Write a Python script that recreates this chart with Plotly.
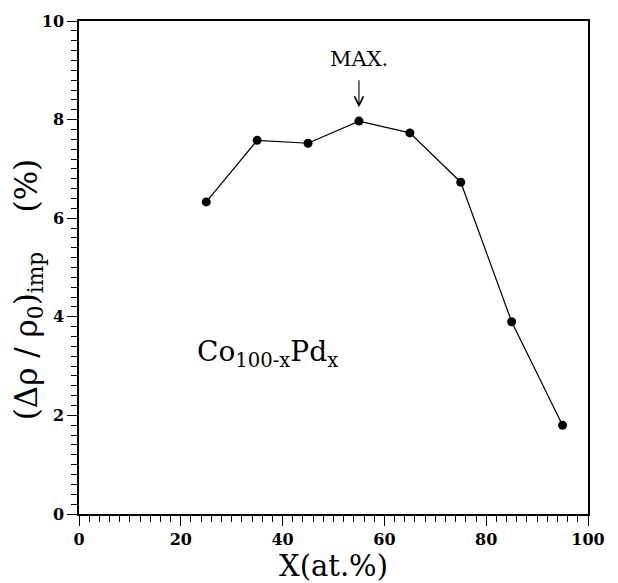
import plotly.graph_objects as go

x_vals = [25, 35, 45, 55, 65, 75, 85, 95]
y_vals = [6.33, 7.58, 7.52, 7.97, 7.73, 6.73, 3.9, 1.8]

x_ticks = [0, 20, 40, 60, 80, 100]
y_ticks = [0, 2, 4, 6, 8, 10]

serif = "DejaVu Serif"

fig = go.Figure()
fig.add_trace(go.Scatter(
    x=x_vals, y=y_vals, mode="lines+markers",
    line=dict(color="black", width=1.2),
    marker=dict(color="black", size=9),
    showlegend=False,
))

fig.add_annotation(x=55, y=9.23, text="MAX.", showarrow=False,
                   font=dict(family=serif, size=21, color="black"),
                   xref="x", yref="y")
# arrow pointing to the maximum
fig.add_annotation(x=55, y=8.25, ax=55, ay=8.83, xref="x", yref="y",
                   axref="x", ayref="y", text="", showarrow=True,
                   arrowhead=5, arrowsize=1.6, arrowwidth=1.1, arrowcolor="black")
fig.add_annotation(x=22.8, y=3.25, xanchor="left",
                   text="Co<sub>100-x</sub>Pd<sub>x</sub>", showarrow=False,
                   font=dict(family=serif, size=28, color="black"),
                   xref="x", yref="y")
# y-axis title as rotated annotation
fig.add_annotation(x=-0.1, y=0.454, xref="paper", yref="paper",
                   xanchor="center", yanchor="middle", textangle=-90,
                   text="(Δρ / ρ<sub>0</sub>)<sub>imp</sub>\u00a0\u00a0\u00a0\u00a0(%)",
                   showarrow=False,
                   font=dict(family=serif, size=31, color="black"))

axis_common = dict(
    showgrid=False, zeroline=False, showline=True, linecolor="black",
    linewidth=1.5, mirror=True, ticks="outside", ticklen=10, tickwidth=1.4,
    tickcolor="black",
    tickfont=dict(family=serif, size=16, color="black", weight="bold"),
)

fig.update_xaxes(range=[0, 100], tickvals=x_ticks, ticktext=[str(v) for v in x_ticks],
                 minor=dict(dtick=2, ticks="outside", ticklen=6, tickcolor="black", tickwidth=1.3),
                 title=dict(text="X(at.%)", font=dict(family=serif, size=29, color="black"), standoff=2),
                 **axis_common)
fig.update_yaxes(range=[0, 10], tickvals=y_ticks, ticktext=[str(v) for v in y_ticks],
                 minor=dict(dtick=0.2, ticks="outside", ticklen=6, tickcolor="black", tickwidth=1.3),
                 **axis_common)

fig.update_layout(
    width=618, height=583,
    margin=dict(l=79, r=30, t=14, b=67),
    plot_bgcolor="white", paper_bgcolor="white",
)

fig.write_html("out.html")
